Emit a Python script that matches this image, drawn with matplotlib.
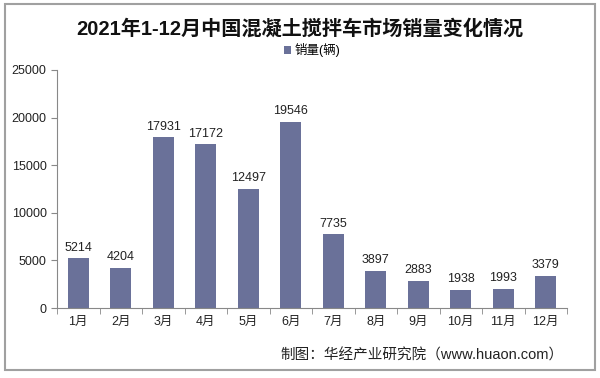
import matplotlib.pyplot as plt
from matplotlib.patches import Rectangle

plt.rcParams['font.family'] = ['Liberation Sans', 'Noto Sans CJK SC', 'DejaVu Sans']

months = ['1月', '2月', '3月', '4月', '5月', '6月', '7月', '8月', '9月', '10月', '11月', '12月']
sales = [5214, 4204, 17931, 17172, 12497, 19546, 7735, 3897, 2883, 1938, 1993, 3379]
yticks = [0, 5000, 10000, 15000, 20000, 25000]

bar_color = '#6a7199'

fig = plt.figure(figsize=(6, 3.78), dpi=100)
ax = fig.add_axes([0.095, 0.185, 0.85, 0.63])

x = list(range(len(months)))
bars = ax.bar(x, sales, width=0.5, color=bar_color, label='销量(辆)', zorder=2)
for xi, v in zip(x, sales):
    ax.text(xi, v + 500, str(v), ha='center', va='bottom', fontsize=9, color='#222222')

ax.set_xlim(-0.5, len(months) - 0.5)
ax.set_ylim(0, 25000)
ax.set_yticks(yticks)
ax.set_yticklabels([str(t) for t in yticks], fontsize=9, color='#222222')
ax.set_xticks(x)
ax.set_xticklabels(months, fontsize=9, color='#222222')
ax.tick_params(axis='x', length=0, pad=6)
ax.set_xticks([i - 0.5 for i in range(len(months) + 1)], minor=True)
ax.tick_params(axis='x', which='minor', length=4, color='#888888', direction='out')
ax.tick_params(axis='y', length=4, color='#888888', direction='out')

for side in ['top', 'right']:
    ax.spines[side].set_visible(False)
for side in ['left', 'bottom']:
    ax.spines[side].set_color('#888888')
    ax.spines[side].set_linewidth(0.8)

fig.text(0.5, 0.925, '2021年1-12月中国混凝土搅拌车市场销量变化情况', ha='center', va='center',
         fontsize=14.5, fontweight='bold', color='#111111')
ax.legend(loc='upper center', bbox_to_anchor=(0.5, 1.16), frameon=False, fontsize=9,
          handlelength=0.6, handleheight=0.6, handletextpad=0.3)
fig.text(0.94, 0.06, '制图：华经产业研究院（www.huaon.com）', ha='right', va='center',
         fontsize=10.5, color='#222222')

fig.patches.append(Rectangle((0.008, 0.02), 0.984, 0.97, transform=fig.transFigure,
                             fill=False, edgecolor='#a0a0a0', linewidth=1.5))

fig.savefig('out.png', dpi=100)
